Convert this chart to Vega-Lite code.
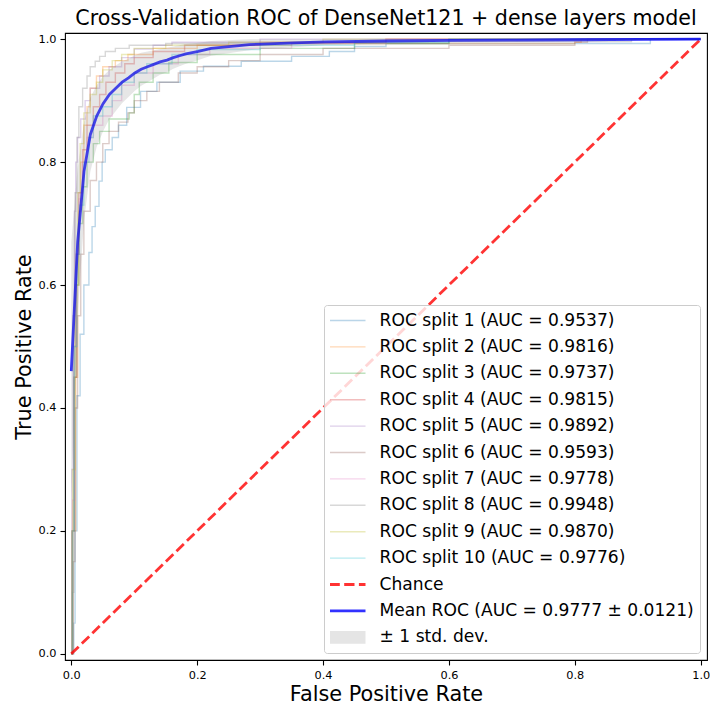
{
  "$schema": "https://vega.github.io/schema/vega-lite/v6.json",
  "autosize": {"type": "none"},
  "padding": {"left": 65, "top": 33, "right": 3, "bottom": 45},
  "width": 642,
  "height": 627,
  "background": "white",
  "title": {"text": "Cross-Validation ROC of DenseNet121 + dense layers model", "font": "DejaVu Sans", "fontSize": 20.6, "fontWeight": "normal", "color": "#000", "anchor": "middle", "offset": 3},
  "config": {
    "view": {"stroke": "#000", "strokeWidth": 1.1},
    "axis": {"labelFont": "DejaVu Sans", "labelFontSize": 11.3, "labelColor": "#000", "tickColor": "#000", "tickSize": 5, "tickWidth": 1.1, "labelPadding": 4, "domain": false, "grid": false, "titleFont": "DejaVu Sans", "titleFontSize": 20.8, "titleFontWeight": "normal", "titleColor": "#000", "labelFlush": false},
    "legend": {
      "orient": "bottom-right", "offset": 7, "padding": 6, "rowPadding": 7.4, "clipHeight": 19,
      "symbolType": "stroke", "symbolSize": 1296, "symbolOffset": -7, "labelOffset": 7.6,
      "labelFont": "DejaVu Sans", "labelFontSize": 17.1, "labelColor": "#000", "labelLimit": 600,
      "strokeColor": "#cccccc", "fillColor": "rgba(255,255,255,0.8)", "cornerRadius": 3
    }
  },
  "datasets": {
    "labels": [
      {"k": 1, "series": "ROC split 1 (AUC = 0.9537)"},
      {"k": 2, "series": "ROC split 2 (AUC = 0.9816)"},
      {"k": 3, "series": "ROC split 3 (AUC = 0.9737)"},
      {"k": 4, "series": "ROC split 4 (AUC = 0.9815)"},
      {"k": 5, "series": "ROC split 5 (AUC = 0.9892)"},
      {"k": 6, "series": "ROC split 6 (AUC = 0.9593)"},
      {"k": 7, "series": "ROC split 7 (AUC = 0.9778)"},
      {"k": 8, "series": "ROC split 8 (AUC = 0.9948)"},
      {"k": 9, "series": "ROC split 9 (AUC = 0.9870)"},
      {"k": 10, "series": "ROC split 10 (AUC = 0.9776)"}
    ],
    "splits": [
      {"k":1,"fpr":0,"tpr":0},{"k":1,"fpr":0.004,"tpr":0.05},{"k":1,"fpr":0.006,"tpr":0.2},{"k":1,"fpr":0.009,"tpr":0.42},{"k":1,"fpr":0.014,"tpr":0.52},{"k":1,"fpr":0.02,"tpr":0.6},{"k":1,"fpr":0.028,"tpr":0.653},{"k":1,"fpr":0.033,"tpr":0.695},{"k":1,"fpr":0.038,"tpr":0.728},{"k":1,"fpr":0.044,"tpr":0.769},{"k":1,"fpr":0.049,"tpr":0.8},{"k":1,"fpr":0.054,"tpr":0.82},{"k":1,"fpr":0.065,"tpr":0.84},{"k":1,"fpr":0.075,"tpr":0.86},{"k":1,"fpr":0.088,"tpr":0.889},{"k":1,"fpr":0.11,"tpr":0.915},{"k":1,"fpr":0.136,"tpr":0.93},{"k":1,"fpr":0.173,"tpr":0.948},{"k":1,"fpr":0.21,"tpr":0.956},{"k":1,"fpr":0.27,"tpr":0.964},{"k":1,"fpr":0.35,"tpr":0.972},{"k":1,"fpr":0.41,"tpr":0.98},{"k":1,"fpr":0.45,"tpr":0.988},{"k":1,"fpr":0.5,"tpr":0.993},{"k":1,"fpr":0.92,"tpr":1.0},{"k":1,"fpr":1,"tpr":1},
      {"k":2,"fpr":0,"tpr":0},{"k":2,"fpr":0.001,"tpr":0.2},{"k":2,"fpr":0.007,"tpr":0.45},{"k":2,"fpr":0.01,"tpr":0.6},{"k":2,"fpr":0.012,"tpr":0.72},{"k":2,"fpr":0.015,"tpr":0.8},{"k":2,"fpr":0.02,"tpr":0.86},{"k":2,"fpr":0.025,"tpr":0.89},{"k":2,"fpr":0.03,"tpr":0.92},{"k":2,"fpr":0.04,"tpr":0.94},{"k":2,"fpr":0.05,"tpr":0.955},{"k":2,"fpr":0.07,"tpr":0.965},{"k":2,"fpr":0.09,"tpr":0.975},{"k":2,"fpr":0.13,"tpr":0.985},{"k":2,"fpr":0.2,"tpr":0.99},{"k":2,"fpr":0.35,"tpr":0.993},{"k":2,"fpr":0.8,"tpr":0.995},{"k":2,"fpr":0.81,"tpr":1.0},{"k":2,"fpr":1,"tpr":1},
      {"k":3,"fpr":0,"tpr":0},{"k":3,"fpr":0.001,"tpr":0.2},{"k":3,"fpr":0.004,"tpr":0.45},{"k":3,"fpr":0.008,"tpr":0.6},{"k":3,"fpr":0.012,"tpr":0.7},{"k":3,"fpr":0.018,"tpr":0.76},{"k":3,"fpr":0.025,"tpr":0.8},{"k":3,"fpr":0.035,"tpr":0.83},{"k":3,"fpr":0.045,"tpr":0.85},{"k":3,"fpr":0.06,"tpr":0.87},{"k":3,"fpr":0.092,"tpr":0.88},{"k":3,"fpr":0.1,"tpr":0.91},{"k":3,"fpr":0.108,"tpr":0.93},{"k":3,"fpr":0.13,"tpr":0.945},{"k":3,"fpr":0.155,"tpr":0.962},{"k":3,"fpr":0.2,"tpr":0.975},{"k":3,"fpr":0.3,"tpr":0.985},{"k":3,"fpr":0.45,"tpr":0.993},{"k":3,"fpr":0.6,"tpr":1.0},{"k":3,"fpr":1,"tpr":1},
      {"k":4,"fpr":0,"tpr":0},{"k":4,"fpr":0.002,"tpr":0.2},{"k":4,"fpr":0.005,"tpr":0.45},{"k":4,"fpr":0.008,"tpr":0.65},{"k":4,"fpr":0.012,"tpr":0.75},{"k":4,"fpr":0.018,"tpr":0.82},{"k":4,"fpr":0.025,"tpr":0.86},{"k":4,"fpr":0.035,"tpr":0.89},{"k":4,"fpr":0.045,"tpr":0.91},{"k":4,"fpr":0.055,"tpr":0.93},{"k":4,"fpr":0.07,"tpr":0.945},{"k":4,"fpr":0.085,"tpr":0.96},{"k":4,"fpr":0.1,"tpr":0.97},{"k":4,"fpr":0.13,"tpr":0.98},{"k":4,"fpr":0.18,"tpr":0.99},{"k":4,"fpr":0.3,"tpr":0.995},{"k":4,"fpr":0.5,"tpr":1.0},{"k":4,"fpr":1,"tpr":1},
      {"k":5,"fpr":0,"tpr":0},{"k":5,"fpr":0.001,"tpr":0.3},{"k":5,"fpr":0.003,"tpr":0.55},{"k":5,"fpr":0.005,"tpr":0.72},{"k":5,"fpr":0.007,"tpr":0.8},{"k":5,"fpr":0.01,"tpr":0.84},{"k":5,"fpr":0.015,"tpr":0.87},{"k":5,"fpr":0.022,"tpr":0.9},{"k":5,"fpr":0.03,"tpr":0.92},{"k":5,"fpr":0.045,"tpr":0.94},{"k":5,"fpr":0.06,"tpr":0.955},{"k":5,"fpr":0.08,"tpr":0.97},{"k":5,"fpr":0.1,"tpr":0.984},{"k":5,"fpr":0.13,"tpr":0.99},{"k":5,"fpr":0.16,"tpr":0.995},{"k":5,"fpr":0.3,"tpr":1.0},{"k":5,"fpr":1,"tpr":1},
      {"k":6,"fpr":0,"tpr":0},{"k":6,"fpr":0.003,"tpr":0.15},{"k":6,"fpr":0.006,"tpr":0.4},{"k":6,"fpr":0.01,"tpr":0.55},{"k":6,"fpr":0.015,"tpr":0.65},{"k":6,"fpr":0.02,"tpr":0.72},{"k":6,"fpr":0.03,"tpr":0.77},{"k":6,"fpr":0.04,"tpr":0.8},{"k":6,"fpr":0.05,"tpr":0.83},{"k":6,"fpr":0.06,"tpr":0.85},{"k":6,"fpr":0.075,"tpr":0.865},{"k":6,"fpr":0.09,"tpr":0.88},{"k":6,"fpr":0.1,"tpr":0.9},{"k":6,"fpr":0.12,"tpr":0.915},{"k":6,"fpr":0.14,"tpr":0.93},{"k":6,"fpr":0.17,"tpr":0.945},{"k":6,"fpr":0.2,"tpr":0.955},{"k":6,"fpr":0.25,"tpr":0.965},{"k":6,"fpr":0.3,"tpr":0.975},{"k":6,"fpr":0.4,"tpr":0.985},{"k":6,"fpr":0.6,"tpr":0.99},{"k":6,"fpr":0.8,"tpr":0.995},{"k":6,"fpr":0.82,"tpr":1.0},{"k":6,"fpr":1,"tpr":1},
      {"k":7,"fpr":0,"tpr":0},{"k":7,"fpr":0.002,"tpr":0.25},{"k":7,"fpr":0.005,"tpr":0.5},{"k":7,"fpr":0.008,"tpr":0.65},{"k":7,"fpr":0.012,"tpr":0.74},{"k":7,"fpr":0.018,"tpr":0.8},{"k":7,"fpr":0.025,"tpr":0.84},{"k":7,"fpr":0.035,"tpr":0.86},{"k":7,"fpr":0.05,"tpr":0.875},{"k":7,"fpr":0.065,"tpr":0.9},{"k":7,"fpr":0.08,"tpr":0.925},{"k":7,"fpr":0.1,"tpr":0.945},{"k":7,"fpr":0.13,"tpr":0.96},{"k":7,"fpr":0.17,"tpr":0.975},{"k":7,"fpr":0.22,"tpr":0.985},{"k":7,"fpr":0.35,"tpr":0.993},{"k":7,"fpr":0.5,"tpr":1.0},{"k":7,"fpr":1,"tpr":1},
      {"k":8,"fpr":0,"tpr":0},{"k":8,"fpr":0.002,"tpr":0.1},{"k":8,"fpr":0.004,"tpr":0.5},{"k":8,"fpr":0.006,"tpr":0.75},{"k":8,"fpr":0.009,"tpr":0.84},{"k":8,"fpr":0.012,"tpr":0.89},{"k":8,"fpr":0.018,"tpr":0.92},{"k":8,"fpr":0.025,"tpr":0.94},{"k":8,"fpr":0.03,"tpr":0.955},{"k":8,"fpr":0.038,"tpr":0.964},{"k":8,"fpr":0.045,"tpr":0.972},{"k":8,"fpr":0.054,"tpr":0.98},{"k":8,"fpr":0.07,"tpr":0.985},{"k":8,"fpr":0.092,"tpr":0.99},{"k":8,"fpr":0.15,"tpr":0.993},{"k":8,"fpr":0.6,"tpr":0.996},{"k":8,"fpr":0.89,"tpr":1.0},{"k":8,"fpr":1,"tpr":1},
      {"k":9,"fpr":0,"tpr":0},{"k":9,"fpr":0.002,"tpr":0.3},{"k":9,"fpr":0.006,"tpr":0.6},{"k":9,"fpr":0.01,"tpr":0.75},{"k":9,"fpr":0.014,"tpr":0.83},{"k":9,"fpr":0.02,"tpr":0.88},{"k":9,"fpr":0.03,"tpr":0.91},{"k":9,"fpr":0.04,"tpr":0.93},{"k":9,"fpr":0.05,"tpr":0.95},{"k":9,"fpr":0.065,"tpr":0.965},{"k":9,"fpr":0.08,"tpr":0.975},{"k":9,"fpr":0.1,"tpr":0.985},{"k":9,"fpr":0.15,"tpr":0.99},{"k":9,"fpr":0.25,"tpr":0.995},{"k":9,"fpr":0.4,"tpr":1.0},{"k":9,"fpr":1,"tpr":1},
      {"k":10,"fpr":0,"tpr":0},{"k":10,"fpr":0.002,"tpr":0.2},{"k":10,"fpr":0.005,"tpr":0.5},{"k":10,"fpr":0.009,"tpr":0.65},{"k":10,"fpr":0.013,"tpr":0.73},{"k":10,"fpr":0.02,"tpr":0.8},{"k":10,"fpr":0.028,"tpr":0.84},{"k":10,"fpr":0.035,"tpr":0.875},{"k":10,"fpr":0.05,"tpr":0.89},{"k":10,"fpr":0.065,"tpr":0.91},{"k":10,"fpr":0.08,"tpr":0.93},{"k":10,"fpr":0.1,"tpr":0.945},{"k":10,"fpr":0.12,"tpr":0.96},{"k":10,"fpr":0.16,"tpr":0.975},{"k":10,"fpr":0.2,"tpr":0.983},{"k":10,"fpr":0.3,"tpr":0.99},{"k":10,"fpr":0.45,"tpr":0.995},{"k":10,"fpr":0.6,"tpr":1.0},{"k":10,"fpr":1,"tpr":1}
    ],
    "chance": [
      {"series": "Chance", "fpr": 0, "tpr": 0},
      {"series": "Chance", "fpr": 1, "tpr": 1}
    ],
    "mean": [
      {"fpr":0,"tpr":0.46,"lo":0.25,"hi":0.67},
      {"fpr":0.0101,"tpr":0.67,"lo":0.55,"hi":0.79},
      {"fpr":0.0202,"tpr":0.785,"lo":0.705,"hi":0.865},
      {"fpr":0.0303,"tpr":0.845,"lo":0.785,"hi":0.905},
      {"fpr":0.0404,"tpr":0.875,"lo":0.825,"hi":0.925},
      {"fpr":0.0505,"tpr":0.895,"lo":0.85,"hi":0.94},
      {"fpr":0.0606,"tpr":0.91,"lo":0.87,"hi":0.95},
      {"fpr":0.0707,"tpr":0.92,"lo":0.883,"hi":0.957},
      {"fpr":0.0808,"tpr":0.93,"lo":0.896,"hi":0.964},
      {"fpr":0.0909,"tpr":0.937,"lo":0.906,"hi":0.968},
      {"fpr":0.101,"tpr":0.945,"lo":0.916,"hi":0.974},
      {"fpr":0.111,"tpr":0.951,"lo":0.924,"hi":0.978},
      {"fpr":0.121,"tpr":0.955,"lo":0.93,"hi":0.98},
      {"fpr":0.131,"tpr":0.959,"lo":0.936,"hi":0.982},
      {"fpr":0.141,"tpr":0.963,"lo":0.942,"hi":0.984},
      {"fpr":0.152,"tpr":0.966,"lo":0.946,"hi":0.986},
      {"fpr":0.162,"tpr":0.97,"lo":0.952,"hi":0.988},
      {"fpr":0.172,"tpr":0.973,"lo":0.956,"hi":0.99},
      {"fpr":0.182,"tpr":0.976,"lo":0.96,"hi":0.992},
      {"fpr":0.192,"tpr":0.978,"lo":0.963,"hi":0.993},
      {"fpr":0.202,"tpr":0.98,"lo":0.966,"hi":0.994},
      {"fpr":0.222,"tpr":0.985,"lo":0.973,"hi":0.997},
      {"fpr":0.242,"tpr":0.987,"lo":0.976,"hi":0.998},
      {"fpr":0.263,"tpr":0.989,"lo":0.979,"hi":0.999},
      {"fpr":0.283,"tpr":0.991,"lo":0.982,"hi":1.0},
      {"fpr":0.303,"tpr":0.992,"lo":0.984,"hi":1.0},
      {"fpr":0.354,"tpr":0.994,"lo":0.987,"hi":1.0},
      {"fpr":0.404,"tpr":0.9955,"lo":0.9905,"hi":1.0},
      {"fpr":0.505,"tpr":0.997,"lo":0.993,"hi":1.0},
      {"fpr":0.606,"tpr":0.998,"lo":0.995,"hi":1.0},
      {"fpr":0.707,"tpr":0.9985,"lo":0.9955,"hi":1.0},
      {"fpr":0.808,"tpr":0.999,"lo":0.997,"hi":1.0},
      {"fpr":0.909,"tpr":0.9995,"lo":0.9985,"hi":1.0},
      {"fpr":1.0,"tpr":1.0,"lo":1.0,"hi":1.0}
    ]
  },
  "layer": [
    {
      "data": {"name": "splits"},
      "transform": [{"lookup": "k", "from": {"data": {"name": "labels"}, "key": "k", "fields": ["series"]}}],
      "mark": {"type": "line", "interpolate": "step-after", "clip": true},
      "encoding": {
        "x": {"field": "fpr", "type": "quantitative", "scale": {"domain": [-0.01, 1.01], "nice": false, "zero": false}, "axis": {"title": "False Positive Rate", "values": [0, 0.2, 0.4, 0.6, 0.8, 1.0], "format": ".1f", "titlePadding": 4}},
        "y": {"field": "tpr", "type": "quantitative", "scale": {"domain": [-0.01, 1.01], "nice": false, "zero": false}, "axis": {"title": "True Positive Rate", "values": [0, 0.2, 0.4, 0.6, 0.8, 1.0], "format": ".1f", "titlePadding": 4}},
        "color": {
          "field": "series", "type": "nominal",
          "scale": {
            "domain": ["ROC split 1 (AUC = 0.9537)", "ROC split 2 (AUC = 0.9816)", "ROC split 3 (AUC = 0.9737)", "ROC split 4 (AUC = 0.9815)", "ROC split 5 (AUC = 0.9892)", "ROC split 6 (AUC = 0.9593)", "ROC split 7 (AUC = 0.9778)", "ROC split 8 (AUC = 0.9948)", "ROC split 9 (AUC = 0.9870)", "ROC split 10 (AUC = 0.9776)", "Chance", "Mean ROC (AUC = 0.9777 ± 0.0121)", "± 1 std. dev."],
            "range": ["#1f77b4", "#ff7f0e", "#2ca02c", "#d62728", "#9467bd", "#8c564b", "#e377c2", "#7f7f7f", "#bcbd22", "#17becf", "#ff0000", "#0000ff", "#808080"]
          },
          "legend": {"title": null}
        },
        "opacity": {
          "field": "series", "type": "nominal",
          "scale": {
            "type": "ordinal",
            "domain": ["ROC split 1 (AUC = 0.9537)", "ROC split 2 (AUC = 0.9816)", "ROC split 3 (AUC = 0.9737)", "ROC split 4 (AUC = 0.9815)", "ROC split 5 (AUC = 0.9892)", "ROC split 6 (AUC = 0.9593)", "ROC split 7 (AUC = 0.9778)", "ROC split 8 (AUC = 0.9948)", "ROC split 9 (AUC = 0.9870)", "ROC split 10 (AUC = 0.9776)", "Chance", "Mean ROC (AUC = 0.9777 ± 0.0121)", "± 1 std. dev."],
            "range": [0.3, 0.3, 0.3, 0.3, 0.3, 0.3, 0.3, 0.3, 0.3, 0.3, 0.8, 0.8, 0.2]
          },
          "legend": {"title": null}
        },
        "strokeWidth": {
          "field": "series", "type": "nominal",
          "scale": {
            "type": "ordinal",
            "domain": ["ROC split 1 (AUC = 0.9537)", "ROC split 2 (AUC = 0.9816)", "ROC split 3 (AUC = 0.9737)", "ROC split 4 (AUC = 0.9815)", "ROC split 5 (AUC = 0.9892)", "ROC split 6 (AUC = 0.9593)", "ROC split 7 (AUC = 0.9778)", "ROC split 8 (AUC = 0.9948)", "ROC split 9 (AUC = 0.9870)", "ROC split 10 (AUC = 0.9776)", "Chance", "Mean ROC (AUC = 0.9777 ± 0.0121)", "± 1 std. dev."],
            "range": [1.4, 1.4, 1.4, 1.4, 1.4, 1.4, 1.4, 1.4, 1.4, 1.4, 2.8, 2.8, 12.7]
          },
          "legend": {"title": null}
        }
      }
    },
    {
      "data": {"name": "chance"},
      "mark": {"type": "line"},
      "encoding": {
        "x": {"field": "fpr", "type": "quantitative"},
        "y": {"field": "tpr", "type": "quantitative"},
        "color": {"field": "series", "type": "nominal", "legend": {"title": null}},
        "opacity": {"field": "series", "type": "nominal", "scale": {"type": "ordinal"}, "legend": {"title": null}},
        "strokeWidth": {"field": "series", "type": "nominal", "scale": {"type": "ordinal"}, "legend": {"title": null}},
        "strokeDash": {
          "field": "series", "type": "nominal",
          "scale": {
            "type": "ordinal",
            "domain": ["ROC split 1 (AUC = 0.9537)", "ROC split 2 (AUC = 0.9816)", "ROC split 3 (AUC = 0.9737)", "ROC split 4 (AUC = 0.9815)", "ROC split 5 (AUC = 0.9892)", "ROC split 6 (AUC = 0.9593)", "ROC split 7 (AUC = 0.9778)", "ROC split 8 (AUC = 0.9948)", "ROC split 9 (AUC = 0.9870)", "ROC split 10 (AUC = 0.9776)", "Chance", "Mean ROC (AUC = 0.9777 ± 0.0121)", "± 1 std. dev."],
            "range": [[1, 0], [1, 0], [1, 0], [1, 0], [1, 0], [1, 0], [1, 0], [1, 0], [1, 0], [1, 0], [10.3, 4.4], [1, 0], [1, 0]]
          },
          "legend": {"title": null}
        }
      }
    },
    {
      "data": {"name": "mean"},
      "mark": {"type": "line"},
      "encoding": {
        "x": {"field": "fpr", "type": "quantitative"},
        "y": {"field": "tpr", "type": "quantitative"},
        "color": {"datum": "Mean ROC (AUC = 0.9777 ± 0.0121)", "type": "nominal", "legend": {"title": null}},
        "opacity": {"datum": "Mean ROC (AUC = 0.9777 ± 0.0121)", "type": "nominal", "scale": {"type": "ordinal"}, "legend": {"title": null}},
        "strokeWidth": {"datum": "Mean ROC (AUC = 0.9777 ± 0.0121)", "type": "nominal", "scale": {"type": "ordinal"}, "legend": {"title": null}}
      }
    },
    {
      "data": {"name": "mean"},
      "mark": {"type": "area"},
      "encoding": {
        "x": {"field": "fpr", "type": "quantitative"},
        "y": {"field": "lo", "type": "quantitative"},
        "y2": {"field": "hi"},
        "color": {"datum": "± 1 std. dev.", "type": "nominal", "legend": {"title": null}},
        "opacity": {"datum": "± 1 std. dev.", "type": "nominal", "scale": {"type": "ordinal"}, "legend": {"title": null}}
      }
    }
  ]
}
